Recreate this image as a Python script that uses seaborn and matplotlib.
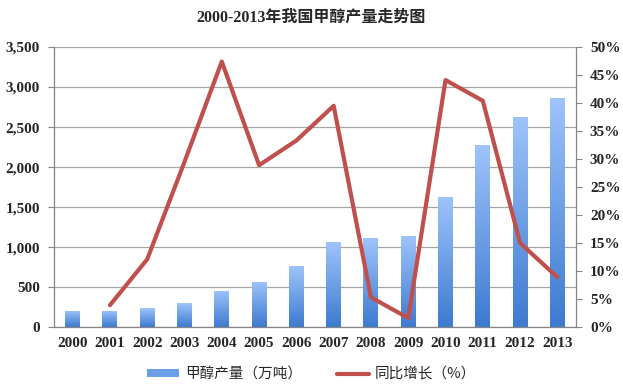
import numpy as np
import pandas as pd
import seaborn as sns
import matplotlib.pyplot as plt
from matplotlib.colors import LinearSegmentedColormap
from matplotlib.patches import Patch
from matplotlib.lines import Line2D

years = ['2000', '2001', '2002', '2003', '2004', '2005', '2006',
         '2007', '2008', '2009', '2010', '2011', '2012', '2013']
output = [200, 205, 237, 296, 454, 567, 762,
          1057, 1108, 1134, 1625, 2280, 2625, 2868]
growth_years = years[1:]
growth = [3.9, 12.1, 29.5, 47.4, 28.9, 33.3, 39.5, 5.3, 1.6, 44.1, 40.4, 15.0, 8.9]

sns.set_style('white')
plt.rcParams['font.family'] = ['Liberation Serif', 'Noto Sans CJK SC']

df = pd.DataFrame({'year': years, 'output': output})
gdf = pd.DataFrame({'pos': [years.index(y) for y in growth_years], 'growth': growth})

fig = plt.figure(figsize=(6.23, 3.86), dpi=100)
ax = fig.add_axes([0.0867, 0.1528, 0.8379, 0.7254])

sns.barplot(data=df, x='year', y='output', ax=ax, width=0.4, color='#5b8fd8',
            edgecolor='none', zorder=2)

# vertical gradient inside every bar
cmap = LinearSegmentedColormap.from_list('bluegrad', ['#3d7ad0', '#9ec4fb'])
grad = np.linspace(0, 1, 256).reshape(-1, 1)
for p in ax.patches:
    x0, w, h = p.get_x(), p.get_width(), p.get_height()
    im = ax.imshow(grad, extent=(x0, x0 + w, 0, h), origin='lower', cmap=cmap,
                   aspect='auto', zorder=2)
    im.set_clip_path(p)
    p.set_facecolor('none')

ax.set_xlim(-0.5, len(years) - 0.5)
ax.set_ylim(0, 3500)
ax.set_yticks(range(0, 3501, 500))
ax.set_yticklabels([f'{v:,}' for v in range(0, 3501, 500)])
ax.yaxis.grid(True, color='#a6a6a6', linewidth=0.9, zorder=0)
ax.set_axisbelow(True)
ax.set_xlabel('')
ax.set_ylabel('')
ax.set_xticks(np.arange(-0.5, len(years), 1), minor=True)
ax.tick_params(axis='x', which='major', length=0, pad=7)
ax.tick_params(axis='x', which='minor', length=4, color='#868686', width=0.8)
ax.tick_params(axis='y', length=4, color='#868686', width=0.8, left=True, pad=6)
for lab in ax.get_xticklabels() + ax.get_yticklabels():
    lab.set_fontweight('bold')
    lab.set_fontsize(11)
for s in ['left', 'bottom']:
    ax.spines[s].set_color('#868686')
    ax.spines[s].set_linewidth(0.9)
ax.spines['top'].set_visible(False)
ax.spines['right'].set_visible(False)

ax2 = ax.twinx()
sns.lineplot(data=gdf, x='pos', y='growth', ax=ax2, color='#c0504d', linewidth=3)
ax2.set_ylim(0, 50)
ax2.set_xlim(-0.5, len(years) - 0.5)
ax2.set_yticks(range(0, 51, 5))
ax2.set_yticklabels([f'{v}%' for v in range(0, 51, 5)])
ax2.set_ylabel('')
ax2.set_xlabel('')
ax2.tick_params(axis='y', length=4, color='#868686', width=0.8, right=True, pad=6)
for lab in ax2.get_yticklabels():
    lab.set_fontweight('bold')
    lab.set_fontsize(11)
for s in ['left', 'top', 'bottom']:
    ax2.spines[s].set_visible(False)
ax2.spines['right'].set_color('#868686')
ax2.spines['right'].set_linewidth(0.9)

fig.text(0.5, 0.953, '2000-2013年我国甲醇产量走势图', ha='center', va='center',
         fontsize=11.5, fontweight='bold')

handles = [Patch(facecolor='#6a9fe6', edgecolor='none'),
           Line2D([0], [0], color='#c0504d', linewidth=3)]
fig.legend(handles, ['甲醇产量（万吨）', '同比增长（%）'], loc='center',
           bbox_to_anchor=(0.5, 0.03), ncol=2, frameon=False,
           handlelength=2.2, handleheight=0.45, handletextpad=0.4, columnspacing=2.4,
           prop={'family': ['Noto Sans CJK SC'], 'size': 10.5})

fig.savefig('out.png', dpi=100)
